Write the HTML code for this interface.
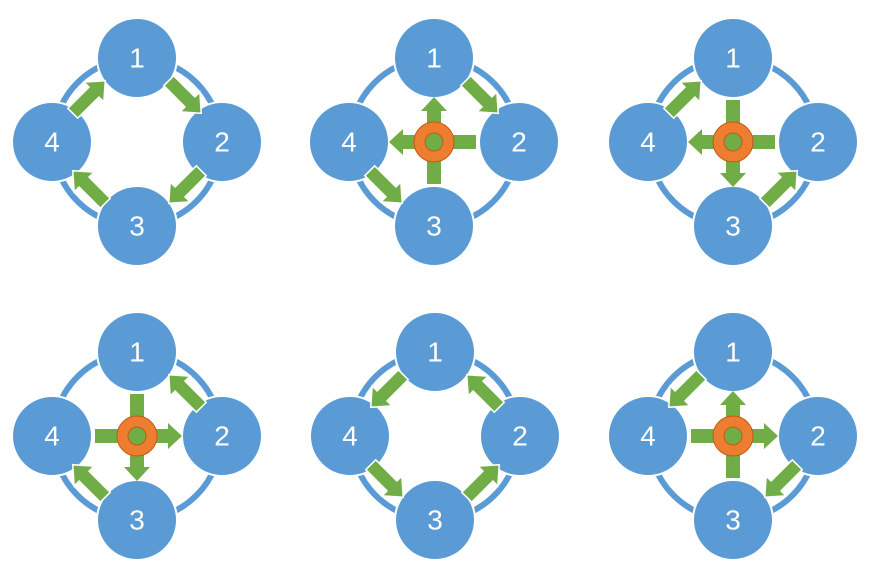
<!DOCTYPE html>
<html><head><meta charset="utf-8"><style>
html,body{margin:0;padding:0;background:#fff;width:872px;height:577px;overflow:hidden}
text{font-family:"Liberation Sans",sans-serif;font-size:28px;fill:#fff;text-anchor:middle;dominant-baseline:central}
</style></head><body>
<svg width="872" height="577" viewBox="0 0 872 577" xmlns="http://www.w3.org/2000/svg">
<defs>
<polygon id="da" points="-23,-7 7,-7 7,-14 23,0 7,14 7,7 -23,7" fill="#70ad47" stroke="#fff" stroke-width="1.5"/>
<polygon id="ha" points="0,-7 31,-7 31,-13 45,0 31,13 31,7 0,7" fill="#70ad47"/>
<rect id="st" x="0" y="-7" width="42" height="14" fill="#70ad47"/>
<g id="ring"><circle r="84" fill="none" stroke="#fff" stroke-width="10"/><circle r="84" fill="none" stroke="#5b9bd5" stroke-width="6"/></g>
<g id="donut"><circle r="14.5" fill="none" stroke="#c55a11" stroke-width="12"/><circle r="14.5" fill="none" stroke="#ed7d31" stroke-width="10"/></g>
<g id="nodes">
<circle cx="0" cy="-84" r="40" fill="#5b9bd5" stroke="#fff" stroke-width="2"/>
<circle cx="85" cy="0" r="40" fill="#5b9bd5" stroke="#fff" stroke-width="2"/>
<circle cx="0" cy="84" r="40" fill="#5b9bd5" stroke="#fff" stroke-width="2"/>
<circle cx="-85" cy="0" r="40" fill="#5b9bd5" stroke="#fff" stroke-width="2"/>
</g>
</defs>

<!-- D1 -->
<g transform="translate(137,142)">
<use href="#ring"/><use href="#nodes"/>
<text x="0" y="-84">1</text><text x="85" y="0">2</text><text x="0" y="84">3</text><text x="-85" y="0">4</text>
<use href="#da" transform="translate(48,-45) rotate(45)"/>
<use href="#da" transform="translate(48,45) rotate(135)"/>
<use href="#da" transform="translate(-48,45) rotate(-135)"/>
<use href="#da" transform="translate(-48,-45) rotate(-45)"/>
</g>

<!-- D2 -->
<g transform="translate(434,142)">
<use href="#ring"/><use href="#nodes"/>
<text x="0" y="-84">1</text><text x="85" y="0">2</text><text x="0" y="84">3</text><text x="-85" y="0">4</text>
<use href="#ha" transform="rotate(-90)"/><use href="#ha" transform="rotate(180)"/>
<use href="#st"/><use href="#st" transform="rotate(90)"/>
<use href="#donut"/>
<use href="#da" transform="translate(48,-45) rotate(45)"/>
<use href="#da" transform="translate(-48,45) rotate(45)"/>
</g>

<!-- D3 -->
<g transform="translate(733,142)">
<use href="#ring"/><use href="#nodes"/>
<text x="0" y="-84">1</text><text x="85" y="0">2</text><text x="0" y="84">3</text><text x="-85" y="0">4</text>
<use href="#ha" transform="rotate(90)"/><use href="#ha" transform="rotate(180)"/>
<use href="#st"/><use href="#st" transform="rotate(-90)"/>
<use href="#donut"/>
<use href="#da" transform="translate(-48,-45) rotate(-45)"/>
<use href="#da" transform="translate(48,45) rotate(-45)"/>
</g>

<!-- D4 -->
<g transform="translate(137,436)">
<use href="#ring"/><use href="#nodes"/>
<text x="0" y="-84">1</text><text x="85" y="0">2</text><text x="0" y="84">3</text><text x="-85" y="0">4</text>
<use href="#ha"/><use href="#ha" transform="rotate(90)"/>
<use href="#st" transform="rotate(180)"/><use href="#st" transform="rotate(-90)"/>
<use href="#donut"/>
<use href="#da" transform="translate(48,-45) rotate(-135)"/>
<use href="#da" transform="translate(-48,45) rotate(-135)"/>
</g>

<!-- D5 -->
<g transform="translate(435,436)">
<use href="#ring"/><use href="#nodes"/>
<text x="0" y="-84">1</text><text x="85" y="0">2</text><text x="0" y="84">3</text><text x="-85" y="0">4</text>
<use href="#da" transform="translate(-48,-45) rotate(135)"/>
<use href="#da" transform="translate(48,-45) rotate(-135)"/>
<use href="#da" transform="translate(-48,45) rotate(45)"/>
<use href="#da" transform="translate(48,45) rotate(-45)"/>
</g>

<!-- D6 -->
<g transform="translate(733,436)">
<use href="#ring"/><use href="#nodes"/>
<text x="0" y="-84">1</text><text x="85" y="0">2</text><text x="0" y="84">3</text><text x="-85" y="0">4</text>
<use href="#ha"/><use href="#ha" transform="rotate(-90)"/>
<use href="#st" transform="rotate(180)"/><use href="#st" transform="rotate(90)"/>
<use href="#donut"/>
<use href="#da" transform="translate(-48,-45) rotate(135)"/>
<use href="#da" transform="translate(48,45) rotate(135)"/>
</g>
</svg>
</body></html>
